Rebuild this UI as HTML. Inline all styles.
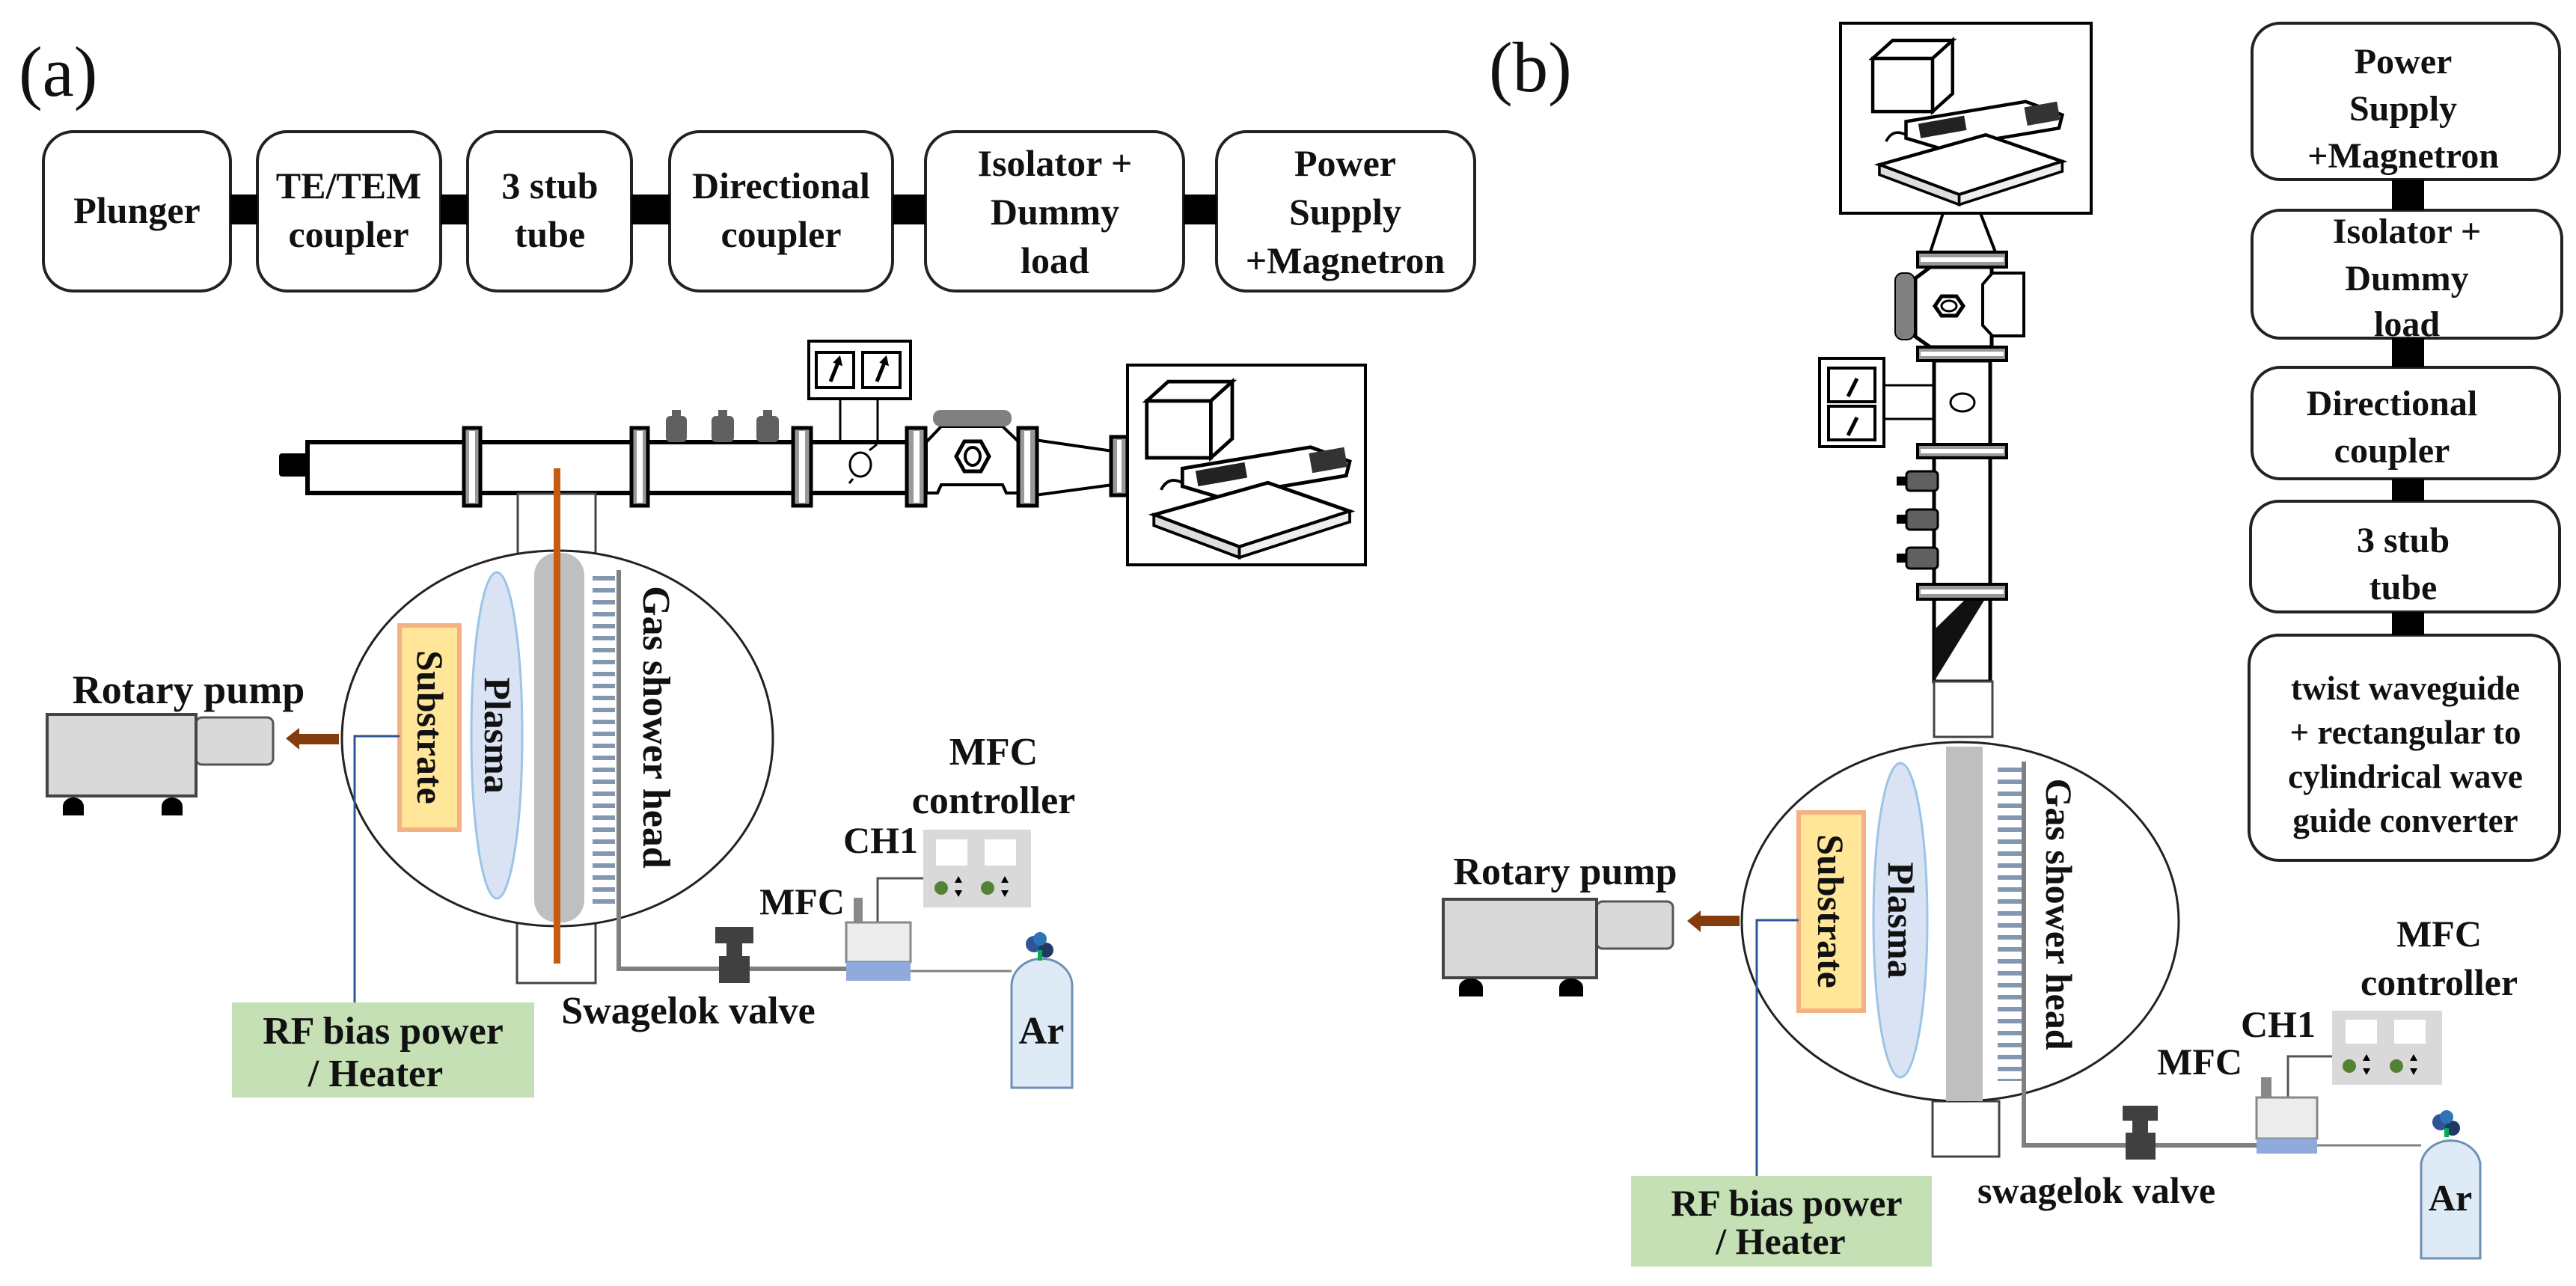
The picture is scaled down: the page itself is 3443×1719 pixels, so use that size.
<!DOCTYPE html>
<html><head><meta charset="utf-8"><style>
html,body{margin:0;padding:0;background:#fff}
svg{display:block}
text{font-family:"Liberation Serif",serif;font-weight:bold;fill:#111}
</style></head><body>
<svg width="3443" height="1719" viewBox="0 0 3443 1719" xmlns="http://www.w3.org/2000/svg">
<defs>
<pattern id="ticksA" x="0" y="765" width="40" height="16" patternUnits="userSpaceOnUse"><rect x="0" y="5" width="40" height="6" fill="#8497b0"/></pattern>
<symbol id="mag" viewBox="0 0 320 270">
 <polygon points="20,45 110,45 110,125 20,125" fill="#fff" stroke="#000" stroke-width="5"/>
 <polygon points="20,45 50,18 140,18 110,45" fill="#fff" stroke="#000" stroke-width="5"/>
 <polygon points="110,45 140,18 140,98 110,125" fill="#fff" stroke="#000" stroke-width="5"/>
 <polygon points="70,140 250,110 305,130 300,150 120,180 70,165" fill="#fff" stroke="#000" stroke-width="5"/>
 <rect x="90" y="138" width="70" height="22" fill="#222" transform="rotate(-10 120 150)"/>
 <rect x="250" y="115" width="50" height="28" fill="#333" transform="rotate(-10 270 130)"/>
 <polygon points="30,205 190,160 305,200 150,250" fill="#fff" stroke="#000" stroke-width="5"/>
 <polygon points="30,205 30,220 150,265 150,250" fill="#ddd" stroke="#000" stroke-width="4"/>
 <polygon points="150,250 150,265 305,215 305,200" fill="#eee" stroke="#000" stroke-width="4"/>
 <path d="M40,170 q10,-20 30,-10" stroke="#000" stroke-width="4" fill="none"/>
</symbol>
</defs>

<!-- (a) -->
<text x="25" y="128" font-size="95" style="font-weight:normal">(a)</text>
<g fill="#fff" stroke="#222" stroke-width="4">
<rect x="58" y="176" width="250" height="213" rx="40"/>
<rect x="344" y="176" width="245" height="213" rx="40"/>
<rect x="625" y="176" width="219" height="213" rx="40"/>
<rect x="895" y="176" width="298" height="213" rx="40"/>
<rect x="1237" y="176" width="345" height="213" rx="40"/>
<rect x="1626" y="176" width="345" height="213" rx="40"/>
</g>
<g fill="#000">
<rect x="308" y="260" width="36" height="40"/><rect x="589" y="260" width="36" height="40"/>
<rect x="844" y="260" width="51" height="40"/><rect x="1193" y="260" width="44" height="40"/>
<rect x="1582" y="260" width="44" height="40"/>
</g>
<g font-size="50" text-anchor="middle">
<text x="183" y="298">Plunger</text>
<text x="466" y="265">TE/TEM</text><text x="466" y="330">coupler</text>
<text x="735" y="265">3 stub</text><text x="735" y="330">tube</text>
<text x="1044" y="265">Directional</text><text x="1044" y="330">coupler</text>
<text x="1410" y="235">Isolator +</text><text x="1410" y="300">Dummy</text><text x="1410" y="365">load</text>
<text x="1798" y="235">Power</text><text x="1798" y="300">Supply</text><text x="1798" y="365">+Magnetron</text>
</g>

<!-- waveguide (a) -->
<rect x="373" y="606" width="40" height="31" rx="4" fill="#000"/>
<rect x="411" y="591" width="806" height="68" fill="#fff" stroke="#000" stroke-width="6"/>
<polygon points="1238,591 1258,570 1340,570 1362,591 1362,659 1345,659 1340,648 1258,648 1253,659 1238,659" fill="#fff" stroke="#000" stroke-width="4"/>
<rect x="1247" y="548" width="105" height="22" rx="10" fill="#808080"/>
<polygon points="1278,610 1289,590 1311,590 1322,610 1311,630 1289,630" fill="#fff" stroke="#000" stroke-width="5"/>
<ellipse cx="1300" cy="610" rx="10" ry="12" fill="none" stroke="#000" stroke-width="4"/>
<polygon points="1383,588 1487,603 1487,648 1383,662" fill="#fff" stroke="#000" stroke-width="4"/>
<g fill="#999" stroke="#000" stroke-width="5">
<rect x="620" y="572" width="22" height="104"/><rect x="844" y="572" width="22" height="104"/>
<rect x="1060" y="572" width="24" height="104"/><rect x="1212" y="572" width="25" height="104"/>
<rect x="1361" y="572" width="25" height="104"/><rect x="1485" y="584" width="22" height="78"/>
</g>
<g fill="#fff">
<rect x="627" y="576" width="8" height="96"/><rect x="851" y="576" width="8" height="96"/>
<rect x="1068" y="576" width="8" height="96"/><rect x="1221" y="576" width="8" height="96"/>
<rect x="1369" y="576" width="8" height="96"/><rect x="1493" y="588" width="6" height="70"/>
</g>
<g fill="#606060">
<rect x="890" y="556" width="28" height="35" rx="6"/><rect x="898" y="548" width="12" height="10"/>
<rect x="951" y="556" width="30" height="35" rx="6"/><rect x="960" y="548" width="12" height="10"/>
<rect x="1011" y="556" width="30" height="35" rx="6"/><rect x="1020" y="548" width="12" height="10"/>
</g>
<rect x="1081" y="456" width="136" height="77" fill="#fff" stroke="#000" stroke-width="4"/>
<rect x="1091" y="471" width="50" height="47" fill="#fff" stroke="#000" stroke-width="4"/>
<rect x="1153" y="471" width="50" height="47" fill="#fff" stroke="#000" stroke-width="4"/>
<path d="M1110,510 L1122,480 M1172,510 L1184,480" stroke="#000" stroke-width="5"/>
<path d="M1116,484 l6,-6 l2,9 Z M1178,484 l6,-6 l2,9 Z" fill="#000" stroke="#000" stroke-width="3"/>
<path d="M1123,533 V591 M1173,533 V591" stroke="#000" stroke-width="3"/>
<ellipse cx="1150" cy="621" rx="14" ry="16" fill="none" stroke="#000" stroke-width="3"/>
<path d="M1140,640 L1135,646 M1162,602 L1172,594" stroke="#000" stroke-width="3"/>
<rect x="1507" y="488" width="318" height="267" fill="#fff" stroke="#000" stroke-width="4"/>
<use href="#mag" x="1512" y="493" width="308" height="257"/>

<!-- chamber (a) -->
<rect x="692" y="660" width="104" height="80" fill="#fff" stroke="#444" stroke-width="3"/>
<rect x="691" y="1234" width="105" height="80" fill="#fff" stroke="#444" stroke-width="3"/>
<ellipse cx="745" cy="987" rx="288" ry="251" fill="#fff" stroke="#222" stroke-width="3"/>
<rect x="714" y="739" width="67" height="494" rx="30" fill="#bfbfbf"/>
<rect x="740" y="626" width="9" height="662" fill="#c55a11"/>
<rect x="534" y="836" width="80" height="273" fill="#ffe699" stroke="#f4b183" stroke-width="6"/>
<ellipse cx="664" cy="983" rx="34" ry="218" fill="#dae3f3" stroke="#9dc3e6" stroke-width="3"/>
<rect x="792" y="765" width="30" height="448" fill="url(#ticksA)"/>
<path d="M827,762 V1295 H1131" fill="none" stroke="#808080" stroke-width="6"/>
<path d="M1217,1298 H1352" stroke="#808080" stroke-width="3"/>
<text transform="translate(558,972) rotate(90)" font-size="50" text-anchor="middle">Substrate</text>
<text transform="translate(648,983) rotate(90)" font-size="50" text-anchor="middle">Plasma</text>
<text transform="translate(860,972) rotate(90)" font-size="52" text-anchor="middle">Gas shower head</text>
<path d="M534,984 H474 V1340" fill="none" stroke="#2f5597" stroke-width="3"/>
<rect x="310" y="1340" width="404" height="127" fill="#c5e0b4"/>
<text x="512" y="1395" font-size="52" text-anchor="middle">RF bias power</text>
<text x="502" y="1452" font-size="52" text-anchor="middle">/ Heater</text>
<!-- pump (a) -->
<text x="252" y="940" font-size="54" text-anchor="middle">Rotary pump</text>
<rect x="262" y="959" width="103" height="63" rx="8" fill="#d9d9d9" stroke="#555" stroke-width="3"/>
<rect x="63" y="955" width="199" height="109" fill="#d9d9d9" stroke="#444" stroke-width="4"/>
<path d="M84,1090 V1078 a14,12 0 0 1 28,0 V1090 Z M216,1090 V1078 a14,12 0 0 1 28,0 V1090 Z" fill="#000"/>
<polygon points="382,987 400,973 400,981 453,981 453,995 400,995 400,1002" fill="#843c0c"/>
<!-- gas line (a) -->
<rect x="956" y="1239" width="51" height="22" fill="#404040"/>
<rect x="971" y="1260" width="21" height="20" fill="#404040"/>
<rect x="961" y="1278" width="41" height="36" fill="#404040"/>
<text x="920" y="1368" font-size="52" text-anchor="middle">Swagelok valve</text>
<rect x="1141" y="1200" width="12" height="35" fill="#888"/>
<path d="M1173,1233 V1174 H1234" fill="none" stroke="#555" stroke-width="3"/>
<rect x="1131" y="1233" width="86" height="53" fill="#ececec" stroke="#888" stroke-width="3"/>
<rect x="1131" y="1286" width="86" height="25" fill="#8faadc"/>
<text x="1072" y="1222" font-size="50" text-anchor="middle">MFC</text>
<text x="1177" y="1140" font-size="50" text-anchor="middle">CH1</text>
<rect x="1234" y="1109" width="144" height="104" fill="#d9d9d9"/>
<rect x="1251" y="1122" width="42" height="35" fill="#fff"/><rect x="1316" y="1122" width="42" height="35" fill="#fff"/>
<circle cx="1258" cy="1187" r="9" fill="#548235"/><circle cx="1320" cy="1187" r="9" fill="#548235"/>
<path d="M1276,1180 l5,-9 l5,9 Z M1276,1190 l5,9 l5,-9 Z M1338,1180 l5,-9 l5,9 Z M1338,1190 l5,9 l5,-9 Z" fill="#000"/>
<text x="1328" y="1022" font-size="52" text-anchor="middle">MFC</text>
<text x="1328" y="1087" font-size="52" text-anchor="middle">controller</text>
<path d="M1352,1454 V1318 a40,36 0 0 1 81,0 V1454 Z" fill="#deebf7" stroke="#6f8fb5" stroke-width="3"/>
<circle cx="1382" cy="1262" r="11" fill="#2f5597"/><circle cx="1398" cy="1270" r="10" fill="#203864"/><circle cx="1390" cy="1255" r="9" fill="#2e75b6"/>
<rect x="1387" y="1270" width="6" height="14" fill="#00b050"/>
<text x="1392" y="1395" font-size="52" text-anchor="middle">Ar</text>

<!-- (b) -->
<text x="1990" y="122" font-size="95" style="font-weight:normal">(b)</text>
<g fill="#fff" stroke="#222" stroke-width="4">
<rect x="3010" y="31" width="411" height="209" rx="38"/>
<rect x="3010" y="281" width="414" height="171" rx="38"/>
<rect x="3010" y="491" width="411" height="149" rx="38"/>
<rect x="3008" y="670" width="413" height="148" rx="38"/>
<rect x="3006" y="849" width="415" height="301" rx="40"/>
</g>
<g fill="#000">
<rect x="3197" y="240" width="43" height="41"/><rect x="3197" y="452" width="43" height="39"/>
<rect x="3197" y="640" width="43" height="30"/><rect x="3197" y="818" width="43" height="31"/>
</g>
<g font-size="48" text-anchor="middle">
<text x="3212" y="98">Power</text><text x="3212" y="161">Supply</text><text x="3212" y="224">+Magnetron</text>
<text x="3217" y="325">Isolator +</text><text x="3217" y="388">Dummy</text><text x="3217" y="449">load</text>
<text x="3197" y="555">Directional</text><text x="3197" y="618">coupler</text>
<text x="3212" y="738">3 stub</text><text x="3212" y="801">tube</text>
<text x="3215" y="935" font-size="45">twist waveguide</text>
<text x="3215" y="994" font-size="45">+ rectangular to</text>
<text x="3215" y="1053" font-size="45">cylindrical wave</text>
<text x="3215" y="1112" font-size="45">guide converter</text>
</g>

<!-- vertical waveguide (b) -->
<rect x="2460" y="31" width="335" height="254" fill="#fff" stroke="#000" stroke-width="4"/>
<use href="#mag" x="2470" y="38" width="315" height="240"/>
<polygon points="2597,285 2647,285 2667,337 2580,337" fill="#fff" stroke="#000" stroke-width="4"/>
<polygon points="2580,357 2662,357 2662,464 2580,464 2560,450 2560,372" fill="#fff" stroke="#000" stroke-width="5"/>
<polygon points="2663,365 2705,365 2705,449 2663,449 2650,435 2650,380" fill="#fff" stroke="#000" stroke-width="4"/>
<rect x="2533" y="365" width="26" height="89" rx="10" fill="#808080" stroke="#000" stroke-width="2"/>
<polygon points="2586,409 2595,396 2615,396 2624,409 2615,422 2595,422" fill="#fff" stroke="#000" stroke-width="5"/>
<ellipse cx="2605" cy="409" rx="10" ry="7" fill="none" stroke="#000" stroke-width="3"/>
<rect x="2585" y="482" width="75" height="429" fill="#fff" stroke="#000" stroke-width="5"/>
<polygon points="2585,842 2627,801 2653,801 2585,911" fill="#111"/>
<path d="M2585,911 H2662" stroke="#000" stroke-width="3"/>
<rect x="2585" y="911" width="78" height="74" fill="#fff" stroke="#444" stroke-width="3"/>
<g fill="#999" stroke="#000" stroke-width="4">
<rect x="2563" y="337" width="119" height="20"/><rect x="2563" y="464" width="119" height="18"/>
<rect x="2563" y="594" width="119" height="18"/><rect x="2563" y="781" width="119" height="20"/>
</g>
<g fill="#fff">
<rect x="2567" y="344" width="111" height="6"/><rect x="2567" y="470" width="111" height="6"/>
<rect x="2567" y="600" width="111" height="6"/><rect x="2567" y="788" width="111" height="6"/>
</g>
<g fill="#606060" stroke="#000" stroke-width="3">
<rect x="2548" y="630" width="42" height="26" rx="5"/><rect x="2548" y="681" width="42" height="27" rx="5"/><rect x="2548" y="732" width="42" height="28" rx="5"/>
</g>
<g fill="#000"><rect x="2535" y="637" width="14" height="12"/><rect x="2535" y="688" width="14" height="12"/><rect x="2535" y="740" width="14" height="12"/></g>
<rect x="2432" y="479" width="86" height="118" fill="#fff" stroke="#000" stroke-width="4"/>
<rect x="2444" y="492" width="62" height="45" fill="#fff" stroke="#000" stroke-width="4"/>
<rect x="2444" y="543" width="62" height="45" fill="#fff" stroke="#000" stroke-width="4"/>
<path d="M2470,530 L2482,506 M2470,582 L2482,558" stroke="#000" stroke-width="5"/>
<path d="M2518,515 H2585 M2518,560 H2585" stroke="#000" stroke-width="3"/>
<ellipse cx="2623" cy="538" rx="16" ry="12" fill="none" stroke="#000" stroke-width="3"/>

<!-- chamber (b) -->
<rect x="2583" y="1472" width="89" height="74" fill="#fff" stroke="#444" stroke-width="3"/>
<ellipse cx="2620" cy="1232" rx="292" ry="240" fill="#fff" stroke="#222" stroke-width="3"/>
<rect x="2601" y="998" width="49" height="474" fill="#bfbfbf"/>
<rect x="2404" y="1086" width="87" height="265" fill="#ffe699" stroke="#f4b183" stroke-width="6"/>
<ellipse cx="2540" cy="1230" rx="36" ry="210" fill="#dae3f3" stroke="#9dc3e6" stroke-width="3"/>
<rect x="2670" y="1020" width="32" height="425" fill="url(#ticksA)"/>
<path d="M2705,1018 V1531 H3016" fill="none" stroke="#808080" stroke-width="6"/>
<path d="M3097,1531 H3236" stroke="#808080" stroke-width="3"/>
<text transform="translate(2430,1218) rotate(90)" font-size="50" text-anchor="middle">Substrate</text>
<text transform="translate(2524,1230) rotate(90)" font-size="50" text-anchor="middle">Plasma</text>
<text transform="translate(2735,1222) rotate(90)" font-size="50" text-anchor="middle">Gas shower head</text>
<path d="M2404,1230 H2348 V1572" fill="none" stroke="#2f5597" stroke-width="3"/>
<rect x="2180" y="1572" width="402" height="121" fill="#c5e0b4"/>
<text x="2388" y="1625" font-size="50" text-anchor="middle">RF bias power</text>
<text x="2380" y="1676" font-size="50" text-anchor="middle">/ Heater</text>
<text x="2092" y="1182" font-size="52" text-anchor="middle">Rotary pump</text>
<rect x="2134" y="1205" width="102" height="63" rx="8" fill="#d9d9d9" stroke="#555" stroke-width="3"/>
<rect x="1929" y="1202" width="205" height="105" fill="#d9d9d9" stroke="#444" stroke-width="4"/>
<path d="M1950,1332 V1320 a16,12 0 0 1 32,0 V1332 Z M2084,1332 V1320 a16,12 0 0 1 32,0 V1332 Z" fill="#000"/>
<polygon points="2255,1231 2273,1217 2273,1224 2325,1224 2325,1238 2273,1238 2273,1246" fill="#843c0c"/>
<rect x="2837" y="1478" width="47" height="20" fill="#404040"/>
<rect x="2850" y="1497" width="21" height="18" fill="#404040"/>
<rect x="2841" y="1514" width="40" height="36" fill="#404040"/>
<text x="2802" y="1608" font-size="50" text-anchor="middle">swagelok valve</text>
<rect x="3022" y="1440" width="14" height="28" fill="#888"/>
<path d="M3058,1467 V1412 H3117" fill="none" stroke="#555" stroke-width="3"/>
<rect x="3016" y="1467" width="81" height="55" fill="#ececec" stroke="#888" stroke-width="3"/>
<rect x="3016" y="1522" width="81" height="20" fill="#8faadc"/>
<text x="2940" y="1436" font-size="50" text-anchor="middle">MFC</text>
<text x="3045" y="1386" font-size="50" text-anchor="middle">CH1</text>
<rect x="3117" y="1351" width="147" height="99" fill="#d9d9d9"/>
<rect x="3135" y="1363" width="42" height="32" fill="#fff"/><rect x="3200" y="1363" width="42" height="32" fill="#fff"/>
<circle cx="3140" cy="1425" r="9" fill="#548235"/><circle cx="3203" cy="1425" r="9" fill="#548235"/>
<path d="M3158,1418 l5,-9 l5,9 Z M3158,1428 l5,9 l5,-9 Z M3221,1418 l5,-9 l5,9 Z M3221,1428 l5,9 l5,-9 Z" fill="#000"/>
<text x="3260" y="1265" font-size="50" text-anchor="middle">MFC</text>
<text x="3260" y="1330" font-size="50" text-anchor="middle">controller</text>
<path d="M3236,1682 V1555 a40,36 0 0 1 79,0 V1682 Z" fill="#deebf7" stroke="#6f8fb5" stroke-width="3"/>
<circle cx="3262" cy="1500" r="11" fill="#2f5597"/><circle cx="3278" cy="1508" r="10" fill="#203864"/><circle cx="3270" cy="1493" r="9" fill="#2e75b6"/>
<rect x="3267" y="1508" width="6" height="12" fill="#00b050"/>
<text x="3275" y="1618" font-size="50" text-anchor="middle">Ar</text>
</svg>
</body></html>
